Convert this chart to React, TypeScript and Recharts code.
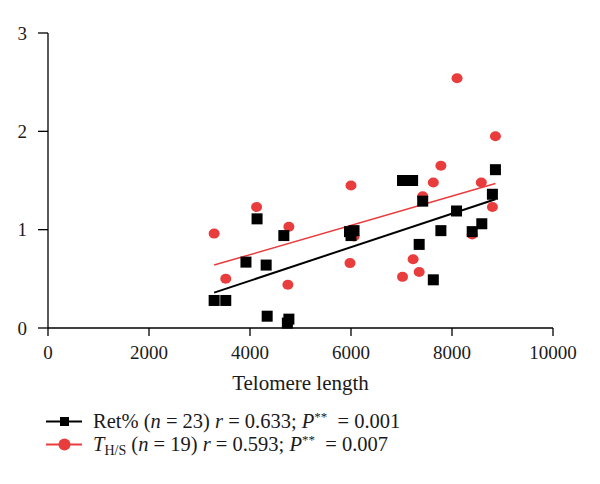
import React from "react";
import { ScatterChart, Scatter, XAxis, YAxis } from "recharts";

// Ret% (n = 23)
const retX = [3290, 3520, 3920, 4140, 4320, 4340, 4670, 4770, 4740, 5970, 6060, 6000, 7020, 7220, 7420, 7780, 7350, 7630, 8090, 8400, 8590, 8800, 8860];
const retY = [0.28, 0.28, 0.67, 1.11, 0.64, 0.12, 0.94, 0.09, 0.05, 0.98, 0.99, 0.94, 1.5, 1.5, 1.29, 0.99, 0.85, 0.49, 1.19, 0.98, 1.06, 1.36, 1.61];

// T H/S (n = 19)
const thsX = [3290, 3520, 4130, 4770, 4750, 6000, 5980, 6060, 8100, 8860, 7780, 7630, 8580, 7420, 8800, 8400, 7230, 7350, 7020];
const thsY = [0.96, 0.5, 1.23, 1.03, 0.44, 1.45, 0.66, 0.93, 2.54, 1.95, 1.65, 1.48, 1.48, 1.34, 1.23, 0.95, 0.7, 0.57, 0.52];

// fitted lines, endpoints
const retLineX = [3290, 8860];
const retLineY = [0.36, 1.31];
const thsLineX = [3290, 8860];
const thsLineY = [0.64, 1.47];

const xTicks = [0, 2000, 4000, 6000, 8000, 10000];
const yTicks = [0, 1, 2, 3];

const BLACK = "#000000";
const RED = "#e93c3c";
const FONT = "'Liberation Serif', 'DejaVu Serif', serif";

const zip = (xs: number[], ys: number[]) => xs.map((x, i) => ({ x, y: ys[i] }));
const retData = zip(retX, retY);
const thsData = zip(thsX, thsY);
const retLine = zip(retLineX, retLineY);
const thsLine = zip(thsLineX, thsLineY);

const SquareShape = (props: any) => {
  const { cx, cy } = props;
  const s = 11;
  return <rect x={cx - s / 2} y={cy - s / 2} width={s} height={s} fill={BLACK} />;
};
const CircleShape = (props: any) => {
  const { cx, cy } = props;
  return <ellipse cx={cx} cy={cy} rx={5.5} ry={5} fill={RED} />;
};
const NoShape = () => <g />;

const tickStyle = { fontFamily: FONT, fontSize: 19, fill: "#1a1a1a" };

export default function App() {
  return (
    <div style={{ position: "relative", width: 584, height: 468, fontFamily: FONT }}>
      <ScatterChart width={584} height={400} margin={{ top: 25, right: 39, left: 0, bottom: 0 }}>
        <XAxis
          type="number"
          dataKey="x"
          domain={[0, 10000]}
          ticks={xTicks}
          interval={0}
          height={80}
          tickSize={8}
          tickMargin={10}
          tick={tickStyle}
          axisLine={{ stroke: "#000", strokeWidth: 1.3 }}
          tickLine={{ stroke: "#000", strokeWidth: 1.3 }}
          label={{ value: "Telomere length", position: "insideBottom", offset: 18, style: { fontFamily: FONT, fontSize: 21, fill: "#1a1a1a" } }}
        />
        <YAxis
          type="number"
          dataKey="y"
          domain={[0, 3]}
          ticks={yTicks}
          interval={0}
          width={40}
          tickSize={10}
          tickMargin={11}
          tick={tickStyle}
          axisLine={{ stroke: "#000", strokeWidth: 1.3 }}
          tickLine={{ stroke: "#000", strokeWidth: 1.3 }}
        />
        <Scatter data={thsLine} line={{ stroke: RED, strokeWidth: 1.5 }} shape={NoShape} isAnimationActive={false} />
        <Scatter data={retLine} line={{ stroke: BLACK, strokeWidth: 2 }} shape={NoShape} isAnimationActive={false} />
        <Scatter data={thsData} shape={CircleShape} isAnimationActive={false} />
        <Scatter data={retData} shape={SquareShape} isAnimationActive={false} />
      </ScatterChart>
      <div style={{ position: "absolute", left: 38, top: 402, fontSize: 20.5, lineHeight: "23px", color: "#1a1a1a", whiteSpace: "nowrap" }}>
        <div style={{ display: "flex", alignItems: "center", height: 23 }}>
          <svg width={47} height={23} style={{ display: "block" }}>
            <line x1={0} y1={11.5} x2={36} y2={11.5} stroke={BLACK} strokeWidth={2} />
            <rect x={14} y={7} width={9} height={9} fill={BLACK} />
          </svg>
          <span style={{ lineHeight: "23px" }}>
            Ret% (<i>n</i> = 23) <i>r</i> = 0.633; <i>P</i>
            <sup style={{ fontSize: 13, verticalAlign: "7px", lineHeight: 0 }}>**</sup>&nbsp; = 0.001
          </span>
        </div>
        <div style={{ display: "flex", alignItems: "center", height: 23 }}>
          <svg width={47} height={23} style={{ display: "block" }}>
            <line x1={0} y1={11.5} x2={36} y2={11.5} stroke={RED} strokeWidth={2} />
            <circle cx={18.5} cy={11.5} r={6} fill={RED} />
          </svg>
          <span style={{ lineHeight: "23px" }}>
            <i>T</i>
            <sub style={{ fontSize: 14, verticalAlign: "-4px", lineHeight: 0 }}>H/S</sub> (<i>n</i> = 19) <i>r</i> = 0.593; <i>P</i>
            <sup style={{ fontSize: 13, verticalAlign: "7px", lineHeight: 0 }}>**</sup>&nbsp; = 0.007
          </span>
        </div>
      </div>
    </div>
  );
}
